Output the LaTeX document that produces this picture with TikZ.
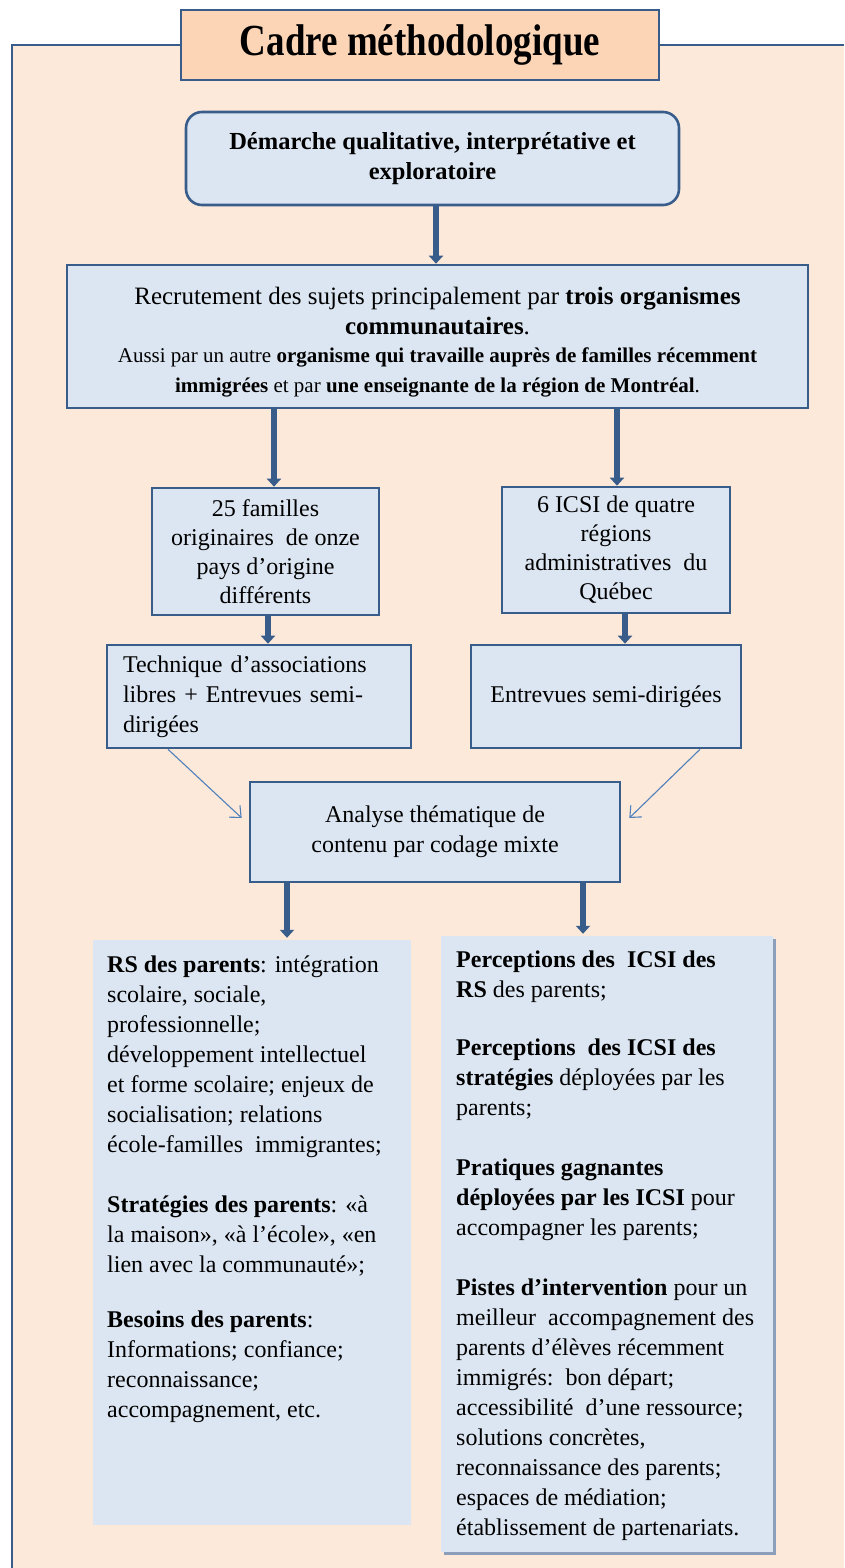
\documentclass[tikz,border=0pt]{standalone}
\usepackage{fontspec}
\setmainfont{Liberation Serif}
\usetikzlibrary{arrows.meta,shadows}
\definecolor{cream}{HTML}{FDE9D9}
\definecolor{boxfill}{HTML}{DCE6F2}
\definecolor{edge}{HTML}{385D8A}
\definecolor{peach}{HTML}{FBD5B5}
\definecolor{thinblue}{HTML}{4F81BD}
\definecolor{shade}{HTML}{7F98B8}
\newcommand{\bodyfont}{\fontsize{24}{30}\selectfont}
\newcommand{\bigline}{\fontsize{25}{30}\selectfont}
\newcommand{\smallline}{\fontsize{21}{27}\selectfont}
\begin{document}
\begin{tikzpicture}[x=1pt,y=-1pt,
  boxstyle/.style={draw=edge, line width=2.6pt, fill=boxfill, inner sep=0pt, align=center, font=\bodyfont},
  titlebox/.style={draw=edge, line width=2.6pt, fill=peach, inner sep=0pt, font=\fontsize{37}{40}\selectfont\bfseries},
  plainbox/.style={fill=boxfill, inner sep=0pt},
  bodytext/.style={inner sep=0pt, align=left, font=\bodyfont, anchor=north west},
  bigarrow/.style={draw=edge, line width=5.5pt, -{Triangle[width=14pt,length=8pt]}},
  thinarrow/.style={draw=thinblue, line width=1.1pt, -{Straight Barb[length=9pt,width=16pt]}}]

% page and frame
\useasboundingbox (0,0) rectangle (844,1568);
\fill[white] (0,0) rectangle (844,1568);
\fill[cream] (12,45) rectangle (844,1568);
\draw[edge, line width=2.6pt] (12,1568) -- (12,45) -- (844,45);

% title
\node[titlebox, minimum width=478pt, minimum height=70pt] (title) at (420,45)
  {\scalebox{1}[1.2]{Cadre méthodologique}};

% approach
\node[boxstyle, rounded corners=16pt, minimum width=493pt, minimum height=93pt, font=\fontsize{24.5}{30}\selectfont\bfseries] (b1) at (432.5,158.5)
  {Démarche qualitative, interprétative et\\exploratoire};

% recruitment
\node[boxstyle, minimum width=741pt, minimum height=143pt] (b2) at (437.5,336.5)
  {\mbox{}\\[-1pt]
   \bigline Recrutement des sujets principalement par \textbf{trois organismes}\\
   \bigline\textbf{communautaires}.\\[-2pt]
   \smallline Aussi par un autre \textbf{organisme qui travaille auprès de familles récemment}\\
   \smallline\textbf{immigrées} et par \textbf{une enseignante de la région de Montréal}.};

% participants
\node[boxstyle, minimum width=227pt, minimum height=127pt, font=\fontsize{24}{29}\selectfont] (b3a) at (265.5,551.5)
  {25 familles\\originaires\ \ de onze\\pays d’origine\\différents};
\node[boxstyle, minimum width=228pt, minimum height=126pt, font=\fontsize{24}{29}\selectfont] (b3b) at (616,550)
  {6 ICSI de quatre\\régions\\administratives\ \ du\\Québec};

% data collection
\node[boxstyle, minimum width=304pt, minimum height=103pt, text width=272pt, align=left] (b4a) at (259,696.5)
  {Technique d’associations\\libres + Entrevues semi-\\dirigées};
\node[boxstyle, minimum width=270pt, minimum height=103pt] (b4b) at (606,696.5)
  {Entrevues semi-dirigées};

% analysis
\node[boxstyle, minimum width=370pt, minimum height=100pt] (b5) at (435,832)
  {Analyse thématique de\\contenu par codage mixte};

% results
\node[plainbox, minimum width=318pt, minimum height=585pt] (r6a) at (252,1232.5) {};
\node[plainbox, minimum width=332pt, minimum height=616pt,
  drop shadow={shadow xshift=3pt, shadow yshift=-3pt, fill=shade, opacity=0.9}] (r6b) at (607,1244) {};

\node[bodytext] (t6a) at (107,956)
  {\textbf{RS des parents}: intégration\\
   scolaire, sociale,\\
   professionnelle;\\
   développement intellectuel\\
   et forme scolaire; enjeux de\\
   socialisation; relations\\
   école-familles\ \ immigrantes;\\[30pt]
   \textbf{Stratégies des parents}: «à\\
   la maison», «à l’école», «en\\
   lien avec la communauté»;\\[25pt]
   \textbf{Besoins des parents}:\\
   Informations; confiance;\\
   reconnaissance;\\
   accompagnement, etc.};

\node[bodytext] (t6b) at (456,951)
  {\textbf{Perceptions des\ \ ICSI des}\\
   \textbf{RS} des parents;\\[28pt]
   \textbf{Perceptions\ \ des ICSI des}\\
   \textbf{stratégies} déployées par les\\
   parents;\\[30pt]
   \textbf{Pratiques gagnantes}\\
   \textbf{déployées par les ICSI} pour\\
   accompagner les parents;\\[30pt]
   \textbf{Pistes d’intervention} pour un\\
   meilleur\ \ accompagnement des\\
   parents d’élèves récemment\\
   immigrés:\ \ bon départ;\\
   accessibilité\ \ d’une ressource;\\
   solutions concrètes,\\
   reconnaissance des parents;\\
   espaces de médiation;\\
   établissement de partenariats.};

% arrow positions
\coordinate (c1) at (436,0);
\coordinate (c2) at (274,0);
\coordinate (c3) at (617,0);
\coordinate (c4) at (268,0);
\coordinate (c5) at (625,0);
\coordinate (c6) at (287,0);
\coordinate (c7) at (583,0);

\draw[bigarrow] (b1.south -| c1) -- (b2.north -| c1);
\draw[bigarrow] (b2.south -| c2) -- (b3a.north -| c2);
\draw[bigarrow] (b2.south -| c3) -- (b3b.north -| c3);
\draw[bigarrow] (b3a.south -| c4) -- (b4a.north -| c4);
\draw[bigarrow] (b3b.south -| c5) -- (b4b.north -| c5);
\draw[thinarrow] ([xshift=-91pt]b4a.south) -- ([xshift=-7pt,yshift=14pt]b5.west);
\draw[thinarrow] ([xshift=94pt]b4b.south) -- ([xshift=8pt,yshift=14pt]b5.east);
\draw[bigarrow] (b5.south -| c6) -- ([yshift=2pt]r6a.north -| c6);
\draw[bigarrow] (b5.south -| c7) -- ([yshift=2pt]r6b.north -| c7);
\end{tikzpicture}
\end{document}
